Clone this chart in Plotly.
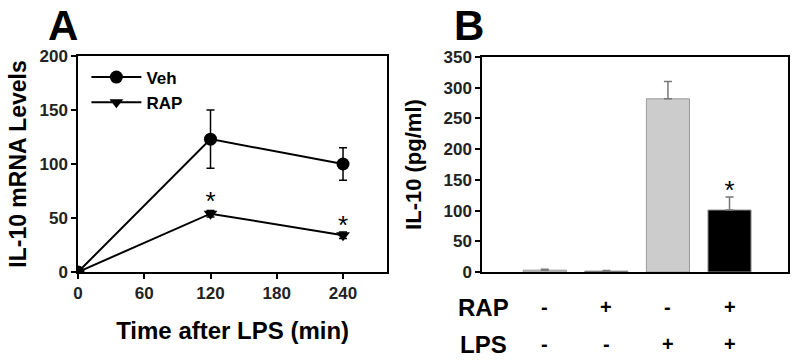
import plotly.graph_objects as go

# ---- Panel A data ----
time_min = [0, 120, 240]
veh_mean = [0, 123, 100]
veh_err = [0, 27, 15]
rap_mean = [0, 54, 34]
rap_err = [0, 3, 3]
a_sig_x = [120, 240]
a_sig_y = [63, 41]

# ---- Panel B data ----
b_groups = [0, 1, 2, 3]
b_values = [3, 1.5, 282, 101]
b_errors = [1.5, 0.8, 28, 21]
b_colors = ["#c8c8c8", "#222222", "#cccccc", "#000000"]
b_sig_x = [3]
b_sig_y = [129]
rap_row = ["-", "+", "-", "+"]
lps_row = ["-", "-", "+", "+"]

FONT = "Liberation Sans, Arial, sans-serif"

fig = go.Figure()

fig.add_trace(go.Scatter(
    x=time_min, y=veh_mean, name="Veh", mode="lines+markers",
    line=dict(color="black", width=2),
    marker=dict(symbol="circle", size=13, color="black"),
    error_y=dict(type="data", array=veh_err, color="black", thickness=1.5, width=4),
    xaxis="x", yaxis="y"))
fig.add_trace(go.Scatter(
    x=time_min, y=rap_mean, name="RAP", mode="lines+markers",
    line=dict(color="black", width=2),
    marker=dict(symbol="triangle-down", size=12, color="black"),
    error_y=dict(type="data", array=rap_err, color="black", thickness=1.5, width=4),
    xaxis="x", yaxis="y"))
fig.add_trace(go.Scatter(
    x=a_sig_x, y=a_sig_y, mode="text", text=["*"] * len(a_sig_x),
    textfont=dict(family=FONT, size=26, color="black"),
    showlegend=False, xaxis="x", yaxis="y"))

fig.add_trace(go.Bar(
    x=b_groups, y=b_values, width=0.7,
    marker=dict(color=b_colors, line=dict(color="#999999", width=1)),
    error_y=dict(type="data", array=b_errors, arrayminus=[0] * 4, symmetric=False,
                 color="#777777", thickness=1.5, width=4),
    showlegend=False, xaxis="x2", yaxis="y2"))
fig.add_trace(go.Scatter(
    x=b_sig_x, y=b_sig_y, mode="text", text=["*"] * len(b_sig_x),
    textfont=dict(family=FONT, size=26, color="black"),
    showlegend=False, xaxis="x2", yaxis="y2"))

tickfont = dict(family=FONT, size=17, color="#222222", weight="bold")
axcommon = dict(showline=True, linecolor="black", linewidth=1.5, mirror=True,
                ticks="outside", ticklen=5, tickcolor="black", tickwidth=1.5,
                showgrid=False, zeroline=False, tickfont=tickfont, automargin=False)

def tfont(size):
    return dict(family=FONT, size=size, color="black", weight="bold")

fig.update_layout(
    width=800, height=361,
    margin=dict(l=0, r=0, t=0, b=0, autoexpand=False),
    paper_bgcolor="white", plot_bgcolor="white",
    showlegend=True,
    legend=dict(x=0.108, y=0.835, xanchor="left", yanchor="top",
                bgcolor="rgba(0,0,0,0)", font=tfont(17),
                tracegroupgap=0, itemwidth=50),
    xaxis=dict(domain=[0.0975, 0.484], range=[0, 280], tickvals=[0, 60, 120, 180, 240],
               title=dict(text="Time after LPS (min)", font=tfont(24), standoff=20),
               anchor="y", **axcommon),
    yaxis=dict(domain=[0.2465, 0.845], range=[0, 200], tickvals=[0, 50, 100, 150, 200],
               title=dict(text="IL-10 mRNA Levels", font=tfont(23), standoff=6),
               anchor="x", **axcommon),
    xaxis2=dict(domain=[0.6025, 0.985], range=[-1.02, 3.95], showticklabels=False,
                showline=True, linecolor="black", linewidth=1.5, mirror=True,
                ticks="", showgrid=False, zeroline=False, anchor="y2", automargin=False),
    yaxis2=dict(domain=[0.2465, 0.842], range=[0, 350],
                tickvals=[0, 50, 100, 150, 200, 250, 300, 350],
                title=dict(text="IL-10 (pg/ml)", font=tfont(22), standoff=16),
                anchor="x2", **axcommon),
)

# panel letters
fig.add_annotation(text="A", x=63, y=26, xref="paper", yref="paper", showarrow=False,
                   xanchor="center", yanchor="middle", font=tfont(42))
fig.add_annotation(text="B", x=469, y=26, xref="paper", yref="paper", showarrow=False,
                   xanchor="center", yanchor="middle", font=tfont(42))

# condition table below panel B
for label, row, ypx in [("RAP", rap_row, 307), ("LPS", lps_row, 344)]:
    fig.add_annotation(text=label, x=483, y=ypx, xref="paper", yref="paper",
                       showarrow=False, xanchor="center", yanchor="middle", font=tfont(24))
    for g, s in zip(b_groups, row):
        fig.add_annotation(text=s, x=g, y=ypx, xref="x2", yref="paper",
                           showarrow=False, xanchor="center", yanchor="middle", font=tfont(20))

# convert pixel-based paper annotations into paper fractions
for ann in fig.layout.annotations:
    if ann.xref == "paper" and ann.x > 1:
        ann.x = ann.x / 800
    if ann.yref == "paper" and ann.y > 1:
        ann.y = 1 - ann.y / 361

fig.write_html("out.html", config={"displayModeBar": False},
               post_script="document.body.style.margin='0px';document.body.style.overflow='hidden';")
